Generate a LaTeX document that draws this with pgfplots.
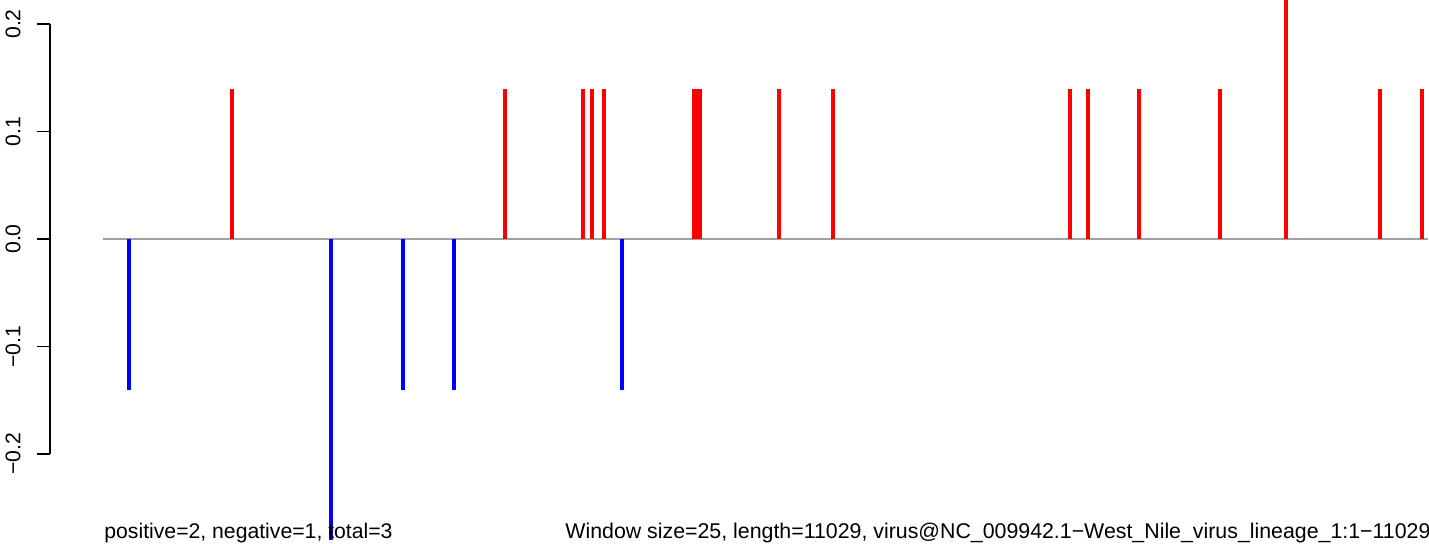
\documentclass[border=0pt]{standalone}
\usepackage{pgfplots}
\pgfplotsset{compat=1.18}
\usepackage{fontspec}
\setmainfont{Liberation Sans}
\definecolor{basegray}{RGB}{160,160,160}
\begin{document}
\begin{tikzpicture}[x=1pt,y=1pt]
\begin{axis}[
  at={(25pt,0pt)}, anchor=south west,
  scale only axis, width=689.5pt, height=271.5pt,
  xmin=-440.1, xmax=11037,
  ymin=-0.28279, ymax=0.22233,
  axis x line=none,
  axis y line=left,
  y axis line style={draw=none,-},
  ytick={-0.2,-0.1,0,0.1,0.2},
  yticklabels={−0.2,−0.1,0.0,0.1,0.2},
  tick align=outside,
  major tick length=6.5pt,
  tick style={black, line width=0.75pt},
  yticklabel style={rotate=90, anchor=south, inner sep=0pt, font=\fontsize{10.6}{12}\selectfont},
  yticklabel shift=8pt,
  clip mode=individual,
]
\addplot[basegray, line width=0.75pt] coordinates {(1,0) (11029,0)};
\addplot[ycomb, red, line width=2pt, line cap=butt, mark=none] coordinates {
(1074,0.14) (3346,0.14) (3995,0.14) (4070,0.14) (4170,0.14)
(4919,0.14) (4944,0.14) (4969,0.14) (5627,0.14) (6076,0.14)
(8049,0.14) (8199,0.14) (8623,0.14) (9298,0.14) (9847,0.28)
(10629,0.14) (10979,0.14)};
\addplot[ycomb, blue, line width=2pt, line cap=butt, mark=none] coordinates {
(217,-0.14) (1898,-0.28) (2497,-0.14) (2921,-0.14) (4320,-0.14)};
\draw[black, line width=0.75pt] (axis cs:-440.1,-0.2) -- (axis cs:-440.1,0.2);
\end{axis}
\node[anchor=base west, inner sep=0pt, font=\fontsize{10.6}{12}\selectfont] at (52pt,2.5pt) {positive=2, negative=1, total=3};
\node[anchor=base west, inner sep=0pt, font=\fontsize{10.67}{12}\selectfont] at (282.5pt,2.5pt) {Window size=25, length=11029, virus@NC\_009942.1−West\_Nile\_virus\_lineage\_1:1−11029};
\pgfresetboundingbox
\useasboundingbox (0,0) rectangle (714.5pt,271.5pt);
\end{tikzpicture}
\end{document}
